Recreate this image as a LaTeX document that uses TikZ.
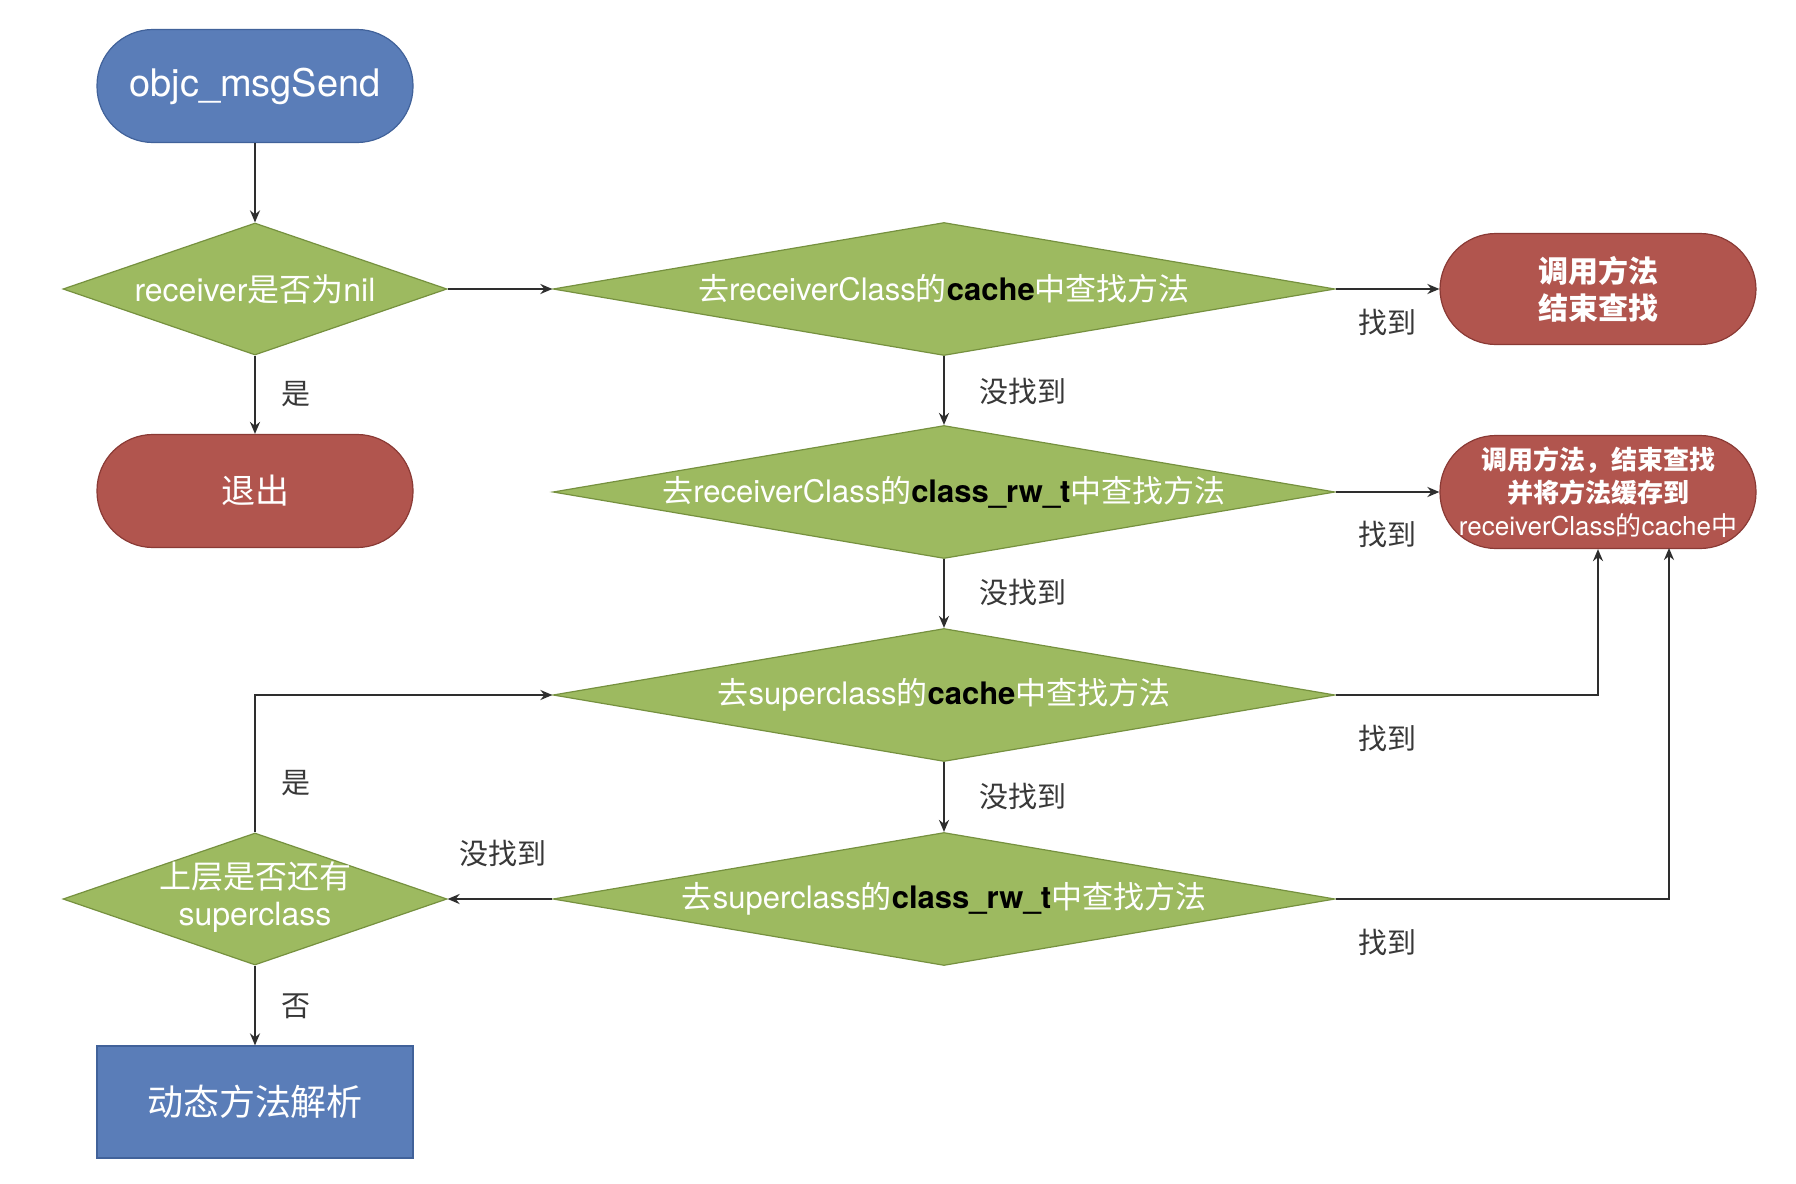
\documentclass[tikz,border=0pt]{standalone}
\usepackage{fontspec}
\setmainfont{TeX Gyre Heros}
\newfontfamily\cjk{Noto Sans CJK SC}
\usetikzlibrary{shapes.geometric,arrows.meta}

\definecolor{flowblue}{HTML}{5A7DB8}
\definecolor{flowblueedge}{HTML}{41629A}
\definecolor{flowred}{HTML}{B1554E}
\definecolor{flowrededge}{HTML}{8A3A35}
\definecolor{flowgreen}{HTML}{9DBA60}
\definecolor{flowgreenedge}{HTML}{76913F}
\definecolor{wire}{HTML}{2E2E2E}
\definecolor{labelgray}{HTML}{383838}

\tikzset{
  terminal/.style={rectangle, rounded corners=28pt, minimum width=158pt,
    minimum height=56.5pt, inner sep=0pt, line width=0.6pt, text=white, align=center},
  bluebox/.style={fill=flowblue, draw=flowblueedge},
  redbox/.style={fill=flowred, draw=flowrededge},
  decision/.style={diamond, fill=flowgreen, draw=flowgreenedge, line width=0.6pt,
    inner sep=0pt, text=white},
  widedec/.style={decision, minimum width=391pt, minimum height=66.5pt, shape aspect=5.9,
    font=\fontsize{15.5}{18}\selectfont},
  narrowdec/.style={decision, minimum width=192pt, minimum height=66pt, shape aspect=2.9},
  flow/.style={draw=wire, line width=1.3pt, -{Stealth[length=6pt,width=5pt]}},
  tag/.style={text=labelgray, inner sep=0pt, font=\cjk\fontsize{14.5}{16}\selectfont},
}

\begin{document}
\begin{tikzpicture}[x=0.5pt,y=-0.5pt]
  \path[fill=white, use as bounding box] (0,0) rectangle (1796,1184);

  % left column
  \node[terminal, bluebox, font=\fontsize{19}{22}\selectfont] (start) at (255,86) {objc\_msgSend};
  \node[narrowdec, font=\fontsize{16}{19}\selectfont] (isnil) at (255,289)
    {\makebox[0pt]{receiver{\cjk 是否为}nil}};
  \node[terminal, redbox, font=\cjk\fontsize{17}{20}\selectfont] (quit) at (255,491) {退出};
  \node[narrowdec, font=\fontsize{16}{18.5}\selectfont] (hassuper) at (255,899)
    {\makebox[0pt]{\begin{tabular}{@{}c@{}}{\cjk 上层是否还有}\\superclass\end{tabular}}};
  \node[rectangle, bluebox, line width=0.6pt, minimum width=158pt, minimum height=56pt,
    text=white, font=\cjk\fontsize{18}{21}\selectfont] (resolve) at (255,1102) {动态方法解析};

  % lookup column
  \node[widedec] (cacheA) at (944,289)
    {\makebox[0pt]{{\cjk 去}receiverClass{\cjk 的}\textcolor{black}{\bfseries cache}{\cjk 中查找方法}}};
  \node[widedec] (rwA) at (944,492)
    {\makebox[0pt]{{\cjk 去}receiverClass{\cjk 的}\textcolor{black}{\bfseries class\_rw\_t}{\cjk 中查找方法}}};
  \node[widedec] (cacheB) at (944,695)
    {\makebox[0pt]{{\cjk 去}superclass{\cjk 的}\textcolor{black}{\bfseries cache}{\cjk 中查找方法}}};
  \node[widedec] (rwB) at (944,899)
    {\makebox[0pt]{{\cjk 去}superclass{\cjk 的}\textcolor{black}{\bfseries class\_rw\_t}{\cjk 中查找方法}}};

  % results
  \node[terminal, redbox, minimum height=55.5pt, font=\fontsize{15}{18.5}\selectfont] (doneA) at (1598,289)
    {{\cjk\bfseries 调用方法}\\{\cjk\bfseries 结束查找}};
  \node[terminal, redbox, font=\fontsize{13}{16.5}\selectfont] (doneB) at (1598,492)
    {{\cjk\bfseries 调用方法，结束查找}\\{\cjk\bfseries 并将方法缓存到}\\receiverClass{\cjk 的}cache{\cjk 中}};
  \coordinate (tap) at (1669,548);

  % connectors
  \draw[flow] (start) -- (isnil);
  \draw[flow] (isnil) -- (quit);
  \draw[flow] (isnil) -- (cacheA);
  \draw[flow] (cacheA) -- (doneA);
  \draw[flow] (cacheA) -- (rwA);
  \draw[flow] (rwA) -- (doneB);
  \draw[flow] (rwA) -- (cacheB);
  \draw[flow] (cacheB.east) -| (doneB.south);
  \draw[flow] (cacheB) -- (rwB);
  \draw[flow] (rwB.east) -| (tap);
  \draw[flow] (rwB) -- (hassuper);
  \draw[flow] (hassuper.north) |- (cacheB.west);
  \draw[flow] (hassuper) -- (resolve);

  % branch labels
  \node[tag] (yesA) at (296,394) {是};
  \node[tag] (yesB) at (296,783) {是};
  \node[tag] (noA) at (296,1006) {否};
  \node[tag] (missA) at (1023,391) {没找到};
  \node[tag] (missB) at (1023,592) {没找到};
  \node[tag] (missC) at (1023,796) {没找到};
  \node[tag] (missD) at (503,853) {没找到};
  \node[tag] (hitA) at (1387,322) {找到};
  \node[tag] (hitB) at (1387,534) {找到};
  \node[tag] (hitC) at (1387,738) {找到};
  \node[tag] (hitD) at (1387,942) {找到};
\end{tikzpicture}
\end{document}
